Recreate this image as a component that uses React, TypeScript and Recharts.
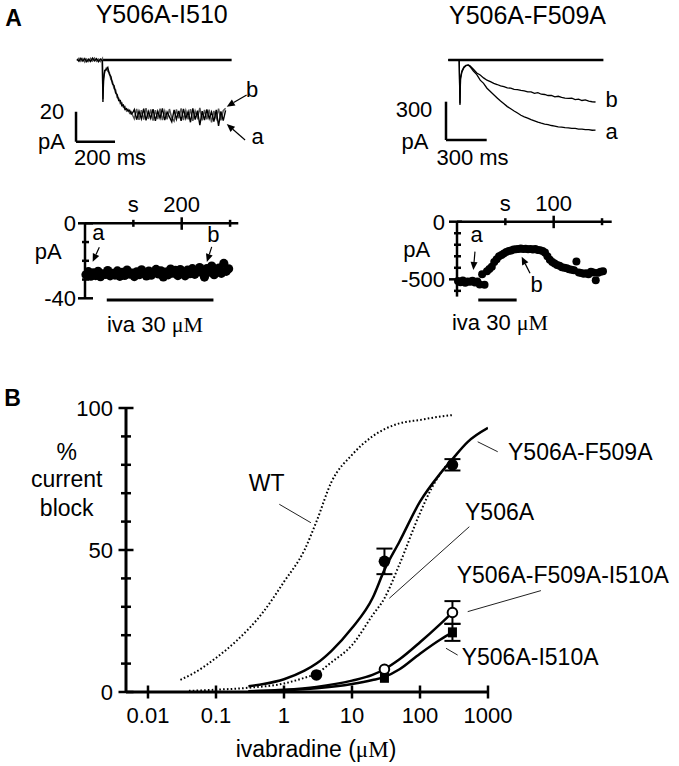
import React from 'react'
import { ComposedChart, LineChart, Line, Scatter, XAxis, YAxis, ReferenceLine, ErrorBar } from 'recharts'

const SANS = '"Liberation Sans", Arial, sans-serif'
const SERIF = '"Liberation Serif", "Times New Roman", serif'

// Panel A: current traces, Y506A-I510 (ms, pA)
const i510Time = [0, 10, 20, 30, 40, 50, 60, 70, 80, 90, 100, 110, 120, 130, 133, 136, 142, 150, 158, 166, 174, 182, 190, 198, 206, 214, 222, 230, 238, 246, 254, 262, 270, 278, 286, 294, 306, 318, 330, 342, 354, 366, 378, 390, 402, 414, 426, 438, 450, 462, 474, 486, 498, 510, 522, 534, 546, 558, 570, 582, 594, 606, 618, 630, 642, 654, 666, 678, 690, 702, 714, 726, 738, 750, 762]
const i510TraceA = [0.8, -0.9, 1.2, -0.7, 1.0, -1.2, 0.6, -1.0, 1.3, -0.6, 0.9, -1.1, 0.7, -0.5, -28, -14, -7, -6.5, -5, -9.5, -11, -16, -17, -22, -23, -27, -27, -30.5, -30, -33, -32.5, -34, -33.5, -36, -35, -33.0, -39.8, -34.0, -39.2, -32.5, -40.2, -34.3, -38.9, -32.8, -40.6, -34.2, -38.8, -32.2, -40.1, -34.6, -37.9, -41.2, -33.2, -39.5, -33.9, -40.6, -32.6, -39.0, -34.4, -41.5, -32.3, -39.7, -33.8, -43.5, -34.1, -40.0, -33.0, -39.1, -34.6, -41.1, -33.2, -44.0, -34.3, -40.4, -33.6]
const i510TraceB = [-0.6, 1.1, -0.8, 0.9, -1.3, 0.7, -0.9, 1.1, -0.7, 1.2, -0.8, 0.6, -1.0, 0.9, -26, -12, -8, -5.5, -7.5, -8.5, -13, -14.5, -19, -20, -25, -25.5, -29, -28.5, -31.5, -31, -34, -33, -35.5, -34.5, -37, -39.2, -32.6, -39.9, -33.5, -39.7, -32.1, -39.3, -33.0, -40.4, -33.4, -39.4, -32.4, -40.1, -33.9, -39.6, -32.7, -38.6, -40.8, -33.0, -38.9, -32.2, -40.0, -33.7, -39.5, -32.8, -40.6, -34.0, -38.4, -32.0, -40.3, -33.3, -39.6, -33.1, -41.5, -33.9, -39.1, -32.4, -40.2, -33.8, -32.1]

// Panel A: current traces, Y506A-F509A (ms, pA)
const f509Time = [0, 40, 80, 86, 90, 100, 115, 130, 147, 160, 185, 210, 235, 260, 285, 310, 335, 360, 385, 410, 435, 460, 485, 510, 535, 560, 585, 610, 635, 660, 685, 710, 735, 760, 785, 810, 835, 860, 885, 910, 935, 960, 985, 1010, 1035, 1060, 1085]
const f509TraceA = [0, 0, 0, -353, -150, -95, -60, -45, -40, -52, -86, -115, -158, -183, -221, -247, -272, -297, -321, -342, -365, -382, -399, -415, -433, -445, -455, -467, -477, -487, -495, -502, -506, -513, -517, -523, -525, -530, -531, -536, -536, -542, -541, -546, -545, -550, -549]
const f509TraceB = [0, 0, 0, -340, -140, -85, -55, -42, -38, -45, -73, -102, -118, -140, -158, -170, -183, -192, -203, -209, -219, -221, -230, -232, -238, -241, -250, -249, -261, -256, -268, -270, -278, -277, -289, -284, -293, -298, -301, -299, -310, -306, -317, -312, -322, -327, -329]

// Panel A: time courses (s, pA)
const i510CourseTime = [2, 7, 12, 17, 22, 27, 32, 37, 42, 47, 52, 57, 62, 67, 72, 77, 82, 87, 92, 97, 102, 107, 112, 117, 122, 127, 132, 137, 142, 147, 152, 157, 162, 167, 172, 177, 182, 187, 192, 197, 202, 207, 212, 217, 222, 227, 232, 237, 242, 247, 252, 257, 262, 267, 272, 277, 282, 287, 292, 297]
const i510CourseAmp = [-27.5, -25.8, -28.2, -26.4, -27.9, -25.6, -28.5, -26.9, -27.3, -25.2, -28.0, -26.7, -27.6, -25.4, -28.3, -26.1, -27.8, -24.9, -27.1, -26.5, -28.4, -25.9, -27.4, -24.8, -26.8, -28.1, -25.5, -27.7, -26.2, -24.6, -27.0, -25.3, -28.6, -26.0, -27.5, -24.4, -26.6, -25.1, -27.9, -24.7, -26.3, -28.0, -25.0, -26.9, -24.2, -27.2, -25.7, -23.6, -26.4, -28.7, -24.1, -26.0, -22.8, -27.4, -25.3, -23.9, -26.7, -21.4, -25.6, -24.3]
const f509CourseTime = [1, 3.5, 6, 8.5, 11, 13.5, 16, 18.5, 21, 23.5, 26, 28.5, 31, 33.5, 36, 38.5, 41, 43.5, 46, 48.5, 51, 53.5, 56, 58.5, 61, 63.5, 66, 68.5, 71, 73.5, 76, 78.5, 81, 83.5, 86, 88.5, 91, 93.5, 96, 98.5, 101, 103.5, 106, 108.5, 111, 113.5, 116, 118.5, 121, 123.5, 126, 128.5, 131, 133.5, 136, 138.5, 141, 143.5, 146, 148.5, 151]
const f509CourseAmp = [-515, -525, -510, -530, -518, -522, -512, -528, -520, -545, -455, -548, -430, -410, -390, -350, -325, -300, -290, -275, -262, -255, -250, -242, -240, -236, -232, -238, -234, -240, -236, -242, -238, -245, -248, -255, -268, -300, -330, -350, -362, -375, -382, -395, -400, -405, -412, -418, -422, -345, -440, -445, -452, -448, -455, -435, -440, -508, -442, -435, -430]

// Panel B: fitted curves (uM, % block)
const wtConc = [0.03, 0.05, 0.1, 0.2, 0.5, 1, 2, 3, 5, 10, 20, 50, 100, 200, 300]
const wtBlock = [4.3, 7, 12, 18, 28.3, 38.8, 50, 60, 74, 83.5, 90, 94.6, 95.8, 97, 97.5]
const y506aConc = [0.04, 0.1, 0.3, 1, 2, 3, 5, 10, 20, 30, 50, 100, 150, 200, 300]
const y506aBlock = [0.4, 0.8, 1.5, 3, 5, 6.5, 10.5, 16.5, 27, 33, 45, 63, 72, 77, 82]
const dmConc = [0.3, 0.5, 1, 2, 3, 5, 10, 20, 30, 50, 100, 200, 300, 500, 1000]
const dmBlock = [2, 2.8, 4.5, 7.5, 10, 14.5, 22.5, 33, 43, 53, 67, 77, 82, 88, 93]
const tmConc = [0.3, 1, 3, 10, 20, 30, 50, 100, 200, 300]
const tmBlock = [0.3, 0.8, 1.8, 4, 6, 8, 11.5, 17.5, 24, 28]
const imConc = [0.3, 1, 3, 10, 20, 30, 50, 100, 200, 300]
const imBlock = [0.2, 0.6, 1.3, 2.8, 4.2, 5.3, 8, 13.5, 18.5, 21]

// Panel B: measured points
const dmPtConc = [3, 30, 300]
const dmPtBlock = [6, 46, 80]
const dmPtErr = [0, 4.5, 2]
const tmPtConc = [30, 300]
const tmPtBlock = [8, 28]
const tmPtErr = [0, 4]
const imPtConc = [30, 300]
const imPtBlock = [5, 21]
const imPtErr = [0, 3]

const doseTicks = [0.01, 0.1, 1, 10, 100, 1000]
const doseLabels: Record<string, string> = { '0.01': '0.01', '0.1': '0.1', '1': '1', '10': '10', '100': '100', '1000': '1000' }
const blockTicks = [0, 10, 20, 30, 40, 50, 60, 70, 80, 90, 100]
const blockLabels: Record<string, string> = { '0': '0', '50': '50', '100': '100' }

const pts = (xs: number[], ys: number[], es?: number[]) =>
  xs.map((x, i) => ({ x, y: ys[i], err: es ? es[i] : 0 }))

function Txt({ x, y, size = 22, anchor = 'middle', bold = false, children }: any) {
  const tx = anchor === 'middle' ? '-50%' : anchor === 'end' ? '-100%' : '0'
  return (
    <div
      style={{
        position: 'absolute', left: x, top: y, transform: `translate(${tx},-50%)`,
        fontSize: size, lineHeight: 1, fontFamily: SANS, fontWeight: bold ? 700 : 400,
        whiteSpace: 'nowrap', color: '#000',
      }}
    >
      {children}
    </div>
  )
}

const Mu = () => <span style={{ fontFamily: SERIF }}>μM</span>

// tick that crosses a horizontal axis
function HTick(props: any) {
  const { x, y, payload, labels, major, maj, min, gap, size = 22 } = props
  const v = payload.value
  const [up, down] = major.includes(v) ? maj : min
  const lab = labels[String(v)]
  return (
    <g>
      <line x1={x} x2={x} y1={y - up} y2={y + down} stroke="#000" strokeWidth={2.5} />
      {lab && (
        <text x={x} y={y + gap} dy="0.36em" textAnchor="middle" fontSize={size} fontFamily={SANS} fill="#000">
          {lab}
        </text>
      )}
    </g>
  )
}

// tick that crosses a vertical axis
function VTick(props: any) {
  const { x, y, payload, labels, major, maj, min, gap, size = 22 } = props
  const v = payload.value
  const [left, right] = major.includes(v) ? maj : min
  const lab = labels[String(v)]
  return (
    <g>
      <line x1={x - left} x2={x + right} y1={y} y2={y} stroke="#000" strokeWidth={2.5} />
      {lab && (
        <text x={x - gap} y={y} dy="0.36em" textAnchor="end" fontSize={size} fontFamily={SANS} fill="#000">
          {lab}
        </text>
      )}
    </g>
  )
}

const arrow = (p: any) => {
  const { x1, y1, x2, y2 } = p
  const a = Math.atan2(y2 - y1, x2 - x1)
  const L = 8
  const W = 3.5
  const bx = x2 - L * Math.cos(a)
  const by = y2 - L * Math.sin(a)
  const s = Math.sin(a)
  const c = Math.cos(a)
  return (
    <g>
      <line x1={x1} y1={y1} x2={bx} y2={by} stroke="#000" strokeWidth={1.2} />
      <polygon points={`${x2},${y2} ${bx - W * s},${by + W * c} ${bx + W * s},${by - W * c}`} fill="#000" />
    </g>
  )
}

const dotShape = (r: number) => (p: any) => <circle cx={p.cx} cy={p.cy} r={r} fill="#000" />
const openDot = (p: any) => <circle cx={p.cx} cy={p.cy} r={4.8} fill="#fff" stroke="#000" strokeWidth={2} />
const squareDot = (p: any) => <rect x={p.cx - 4.5} y={p.cy - 5} width={9} height={10} fill="#000" />

const axisLine = { stroke: '#000', strokeWidth: 2.5 }

export default function App() {
  return (
    <div style={{ position: 'absolute', left: 0, top: 0, width: 679, height: 766, background: '#fff', overflow: 'hidden' }}>
      <Txt x={13.5} y={18} size={23} bold>A</Txt>
      <Txt x={12.5} y={398} size={23} bold>B</Txt>
      <Txt x={161.7} y={14} size={25}>Y506A-I510</Txt>
      <Txt x={527.5} y={15} size={25}>Y506A-F509A</Txt>

      {/* Y506A-I510 traces */}
      <div style={{ position: 'absolute', left: 69, top: 38 }}>
        <LineChart width={191} height={112} margin={{ top: 0, right: 0, bottom: 0, left: 0 }}>
          <XAxis type="number" dataKey="x" domain={[-41, 938.5]} hide />
          <YAxis type="number" dataKey="y" domain={[-60, 14.67]} hide />
          <ReferenceLine segment={[{ x: 133, y: 0 }, { x: 793, y: 0 }]} stroke="#000" strokeWidth={2.5} />
          <Line data={pts(i510Time, i510TraceB)} dataKey="y" stroke="#555" strokeWidth={1.5} dot={false} isAnimationActive={false} />
          <Line data={pts(i510Time, i510TraceA)} dataKey="y" stroke="#000" strokeWidth={1.4} dot={false} isAnimationActive={false} />
          <ReferenceLine segment={[{ x: -5, y: -34.5 }, { x: -5, y: -54.5 }]} stroke="#000" strokeWidth={2.5} />
          <ReferenceLine segment={[{ x: -5, y: -54.5 }, { x: 195, y: -54.5 }]} stroke="#000" strokeWidth={2.5} />
          <ReferenceLine segment={[{ x: 870, y: -23.3 }, { x: 768, y: -31.1 }]} shape={arrow} />
          <ReferenceLine segment={[{ x: 862, y: -53.3 }, { x: 768, y: -42.7 }]} shape={arrow} />
        </LineChart>
      </div>
      <Txt x={52} y={112}>20</Txt>
      <Txt x={51.5} y={142}>pA</Txt>
      <Txt x={110} y={158}>200 ms</Txt>
      <Txt x={252} y={90}>b</Txt>
      <Txt x={257.7} y={136.7}>a</Txt>

      {/* Y506A-F509A traces */}
      <div style={{ position: 'absolute', left: 440, top: 50 }}>
        <LineChart width={180} height={100} margin={{ top: 0, right: 0, bottom: 0, left: 0 }}>
          <XAxis type="number" dataKey="x" domain={[-61.2, 1265.3]} hide />
          <YAxis type="number" dataKey="y" domain={[-704.8, 78.3]} hide />
          <ReferenceLine segment={[{ x: 0, y: 0 }, { x: 1143, y: 0 }]} stroke="#000" strokeWidth={2.5} />
          <Line data={pts(f509Time, f509TraceB)} dataKey="y" stroke="#000" strokeWidth={1.3} dot={false} isAnimationActive={false} />
          <Line data={pts(f509Time, f509TraceA)} dataKey="y" stroke="#000" strokeWidth={1.3} dot={false} isAnimationActive={false} />
          <ReferenceLine segment={[{ x: -17, y: -326.5 }, { x: -17, y: -626.5 }]} stroke="#000" strokeWidth={2.5} />
          <ReferenceLine segment={[{ x: -17, y: -626.5 }, { x: 283, y: -626.5 }]} stroke="#000" strokeWidth={2.5} />
        </LineChart>
      </div>
      <Txt x={414} y={110}>300</Txt>
      <Txt x={415} y={141.7}>pA</Txt>
      <Txt x={472.5} y={158}>300 ms</Txt>
      <Txt x={611.7} y={100}>b</Txt>
      <Txt x={611.7} y={131.7}>a</Txt>

      {/* Y506A-I510 time course */}
      <div style={{ position: 'absolute', left: 0, top: 190 }}>
        <ComposedChart width={260} height={130} margin={{ top: 3.3, right: 21.7, bottom: 21.7, left: 45 }}>
          <XAxis
            type="number" dataKey="x" orientation="top" domain={[0, 317]} ticks={[100, 200, 300]} interval={0}
            height={30} axisLine={axisLine} tickLine={false} tickSize={0} tickMargin={0}
            tick={(p: any) => <HTick {...p} labels={{ '100': 's', '200': '200' }} major={[200]} maj={[6, 6.5]} min={[3.5, 3.5]} gap={-19} />}
          />
          <YAxis
            type="number" dataKey="y" domain={[-40, 0]} ticks={[0, -10, -20, -30, -40]} interval={0}
            width={40} axisLine={axisLine} tickLine={false} tickSize={0} tickMargin={0}
            tick={(p: any) => <VTick {...p} labels={{ '0': '0', '-40': '-40' }} major={[0, -40]} maj={[7, 8]} min={[3, 4]} gap={9} />}
          />
          <Scatter data={pts(i510CourseTime, i510CourseAmp)} dataKey="y" shape={dotShape(4.6)} isAnimationActive={false} />
          <ReferenceLine segment={[{ x: 45, y: -40.9 }, { x: 265.6, y: -40.9 }]} stroke="#000" strokeWidth={3} ifOverflow="visible" />
          <ReferenceLine segment={[{ x: 29.6, y: -12.8 }, { x: 15.9, y: -20.5 }]} shape={arrow} />
          <ReferenceLine segment={[{ x: 262, y: -12.6 }, { x: 252, y: -20.6 }]} shape={arrow} />
        </ComposedChart>
      </div>
      <Txt x={48.3} y={251.7}>pA</Txt>
      <Txt x={98.3} y={233.3}>a</Txt>
      <Txt x={213.3} y={235}>b</Txt>
      <Txt x={155} y={325}>iva 30 <Mu /></Txt>

      {/* Y506A-F509A time course */}
      <div style={{ position: 'absolute', left: 400, top: 190 }}>
        <ComposedChart width={230} height={130} margin={{ top: 1.7, right: 18.3, bottom: 23.4, left: 17 }}>
          <XAxis
            type="number" dataKey="x" orientation="top" domain={[0, 160]} ticks={[50, 100, 150]} interval={0}
            height={30} axisLine={axisLine} tickLine={false} tickSize={0} tickMargin={0}
            tick={(p: any) => <HTick {...p} labels={{ '50': 's', '100': '100' }} major={[100]} maj={[6, 6.5]} min={[3.5, 3.5]} gap={-19} />}
          />
          <YAxis
            type="number" dataKey="y" domain={[-650, 0]} ticks={[0, -100, -200, -300, -400, -500, -600]} interval={0}
            width={40} axisLine={axisLine} tickLine={false} tickSize={0} tickMargin={0}
            tick={(p: any) => <VTick {...p} labels={{ '0': '0', '-500': '-500' }} major={[0, -500]} maj={[8, 5]} min={[3, 4]} gap={12} />}
          />
          <Scatter data={pts(f509CourseTime, f509CourseAmp)} dataKey="y" shape={dotShape(4)} isAnimationActive={false} />
          <ReferenceLine segment={[{ x: 22, y: -680 }, { x: 61.7, y: -680 }]} stroke="#000" strokeWidth={3} ifOverflow="visible" />
          <ReferenceLine segment={[{ x: 18.6, y: -260 }, { x: 16.9, y: -419 }]} shape={arrow} />
          <ReferenceLine segment={[{ x: 75.5, y: -448 }, { x: 66.9, y: -304 }]} shape={arrow} />
        </ComposedChart>
      </div>
      <Txt x={416.7} y={250}>pA</Txt>
      <Txt x={476.7} y={235}>a</Txt>
      <Txt x={536.7} y={285}>b</Txt>
      <Txt x={500} y={323}>iva 30 <Mu /></Txt>

      {/* Panel B dose-response */}
      <div style={{ position: 'absolute', left: 0, top: 380 }}>
        <ComposedChart width={679} height={386} margin={{ top: 28, right: 191, bottom: 34, left: 86 }}>
          <XAxis
            type="number" dataKey="x" scale="log" domain={[0.00475, 1000]} allowDataOverflow ticks={doseTicks} interval={0}
            height={40} axisLine={{ stroke: '#000', strokeWidth: 3 }} tickLine={false} tickSize={0} tickMargin={0}
            tick={(p: any) => <HTick {...p} labels={doseLabels} major={doseTicks} maj={[6.5, 6.5]} min={[6.5, 6.5]} gap={23} />}
          />
          <YAxis
            type="number" dataKey="y" domain={[0, 100]} ticks={blockTicks} interval={0}
            width={40} axisLine={{ stroke: '#000', strokeWidth: 3 }} tickLine={false} tickSize={0} tickMargin={0}
            tick={(p: any) => <VTick {...p} labels={blockLabels} major={[0, 50, 100]} maj={[7.5, 7.5]} min={[5, 5]} gap={13} />}
          />
          <Line data={pts(wtConc, wtBlock)} dataKey="y" type="monotone" stroke="#000" strokeWidth={2} strokeDasharray="1.6 2.2" dot={false} isAnimationActive={false} />
          <Line data={pts(y506aConc, y506aBlock)} dataKey="y" type="monotone" stroke="#000" strokeWidth={2} strokeDasharray="1.6 2.2" dot={false} isAnimationActive={false} />
          <Line data={pts(dmConc, dmBlock)} dataKey="y" type="monotone" stroke="#000" strokeWidth={2.5} dot={false} isAnimationActive={false} />
          <Line data={pts(tmConc, tmBlock)} dataKey="y" type="monotone" stroke="#000" strokeWidth={2.5} dot={false} isAnimationActive={false} />
          <Line data={pts(imConc, imBlock)} dataKey="y" type="monotone" stroke="#000" strokeWidth={2.5} dot={false} isAnimationActive={false} />
          <Scatter data={pts(dmPtConc, dmPtBlock, dmPtErr)} dataKey="y" shape={dotShape(5.8)} isAnimationActive={false}>
            <ErrorBar dataKey="err" direction="y" width={8} stroke="#000" strokeWidth={2} />
          </Scatter>
          <Scatter data={pts(imPtConc, imPtBlock, imPtErr)} dataKey="y" shape={squareDot} isAnimationActive={false}>
            <ErrorBar dataKey="err" direction="y" width={8} stroke="#000" strokeWidth={2} />
          </Scatter>
          <Scatter data={pts(tmPtConc, tmPtBlock, tmPtErr)} dataKey="y" shape={openDot} isAnimationActive={false}>
            <ErrorBar dataKey="err" direction="y" width={8} stroke="#000" strokeWidth={2} />
          </Scatter>
          <ReferenceLine segment={[{ x: 0.853, y: 66.1 }, { x: 2.49, y: 59.6 }]} stroke="#222" strokeWidth={1} ifOverflow="visible" />
          <ReferenceLine segment={[{ x: 705, y: 88.1 }, { x: 1390, y: 84.6 }]} stroke="#222" strokeWidth={1} ifOverflow="visible" />
          <ReferenceLine segment={[{ x: 531, y: 58.2 }, { x: 35.4, y: 33 }]} stroke="#222" strokeWidth={1} ifOverflow="visible" />
          <ReferenceLine segment={[{ x: 6000, y: 35.7 }, { x: 503, y: 28.3 }]} stroke="#222" strokeWidth={1} ifOverflow="visible" />
          <ReferenceLine segment={[{ x: 358, y: 13 }, { x: 241, y: 15.4 }]} stroke="#222" strokeWidth={1} ifOverflow="visible" />
        </ComposedChart>
      </div>
      <Txt x={66.7} y={451.7} size={23}>%</Txt>
      <Txt x={66.7} y={479.3} size={23}>current</Txt>
      <Txt x={66.7} y={508.3} size={23}>block</Txt>
      <Txt x={266.7} y={483.3} size={23}>WT</Txt>
      <Txt x={508} y={451.7} size={23} anchor="start">Y506A-F509A</Txt>
      <Txt x={465} y={511.7} size={23} anchor="start">Y506A</Txt>
      <Txt x={456.7} y={575} size={23} anchor="start">Y506A-F509A-I510A</Txt>
      <Txt x={461.7} y={656.7} size={23} anchor="start">Y506A-I510A</Txt>
      <Txt x={316} y={749} size={23}>ivabradine (<Mu />)</Txt>
    </div>
  )
}
